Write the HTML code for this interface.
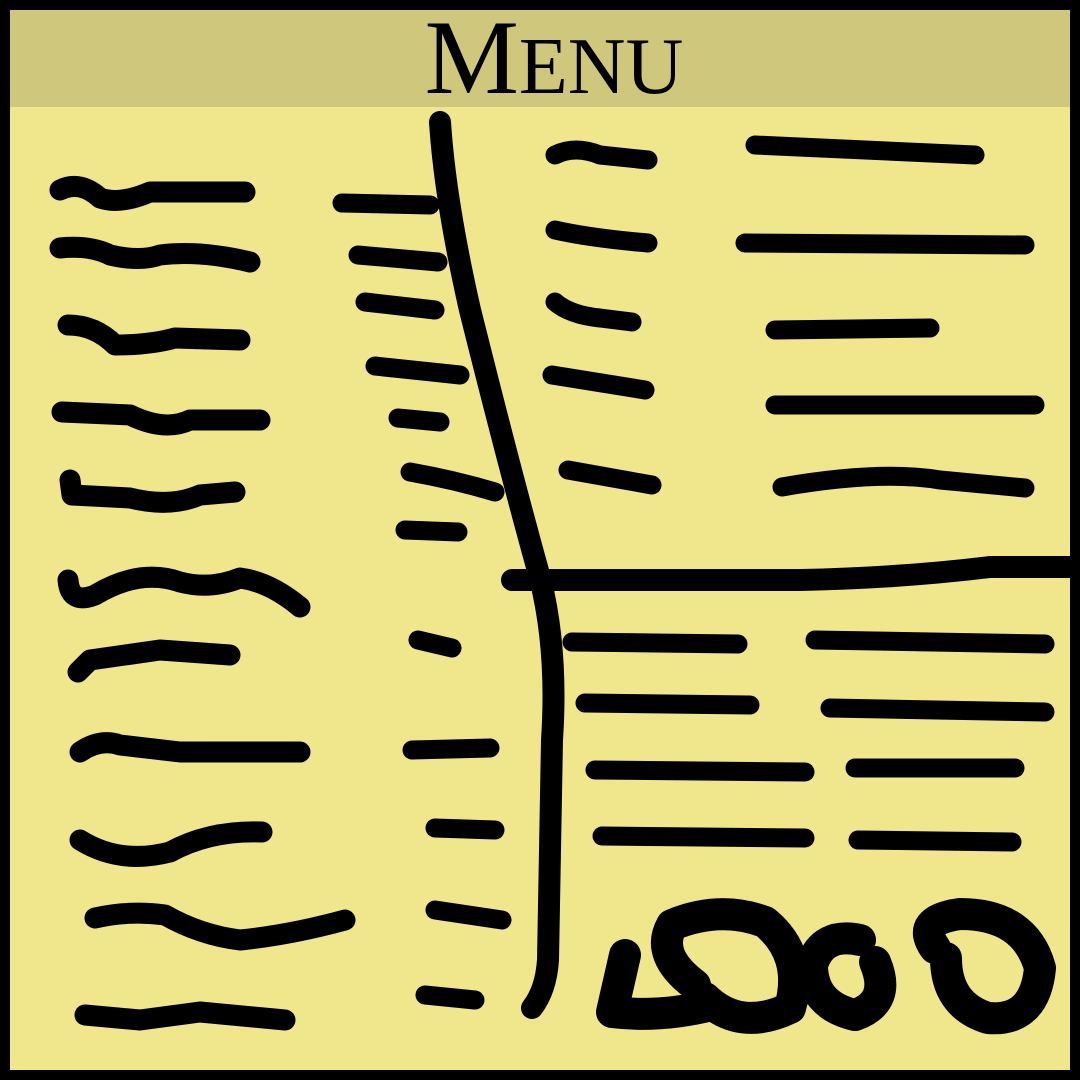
<!DOCTYPE html>
<html><head><meta charset="utf-8"><style>
html,body{margin:0;padding:0;background:#000}
svg{display:block}
</style></head><body>
<svg width="1080" height="1080" viewBox="0 0 1080 1080" xmlns="http://www.w3.org/2000/svg">
<rect x="0" y="0" width="1080" height="1080" fill="#000"/>
<rect x="10" y="10" width="1060" height="1060" fill="#f0e68c"/>
<rect x="10" y="10" width="1060" height="97" fill="#cfc77b"/>
<text x="554" y="93" text-anchor="middle" font-family="Liberation Serif, serif" font-size="106" fill="#000">M<tspan font-size="80">ENU</tspan></text>
<g fill="none" stroke="#000" stroke-linecap="round" stroke-linejoin="round">
<g stroke-width="21">
<path d="M60 190 Q80 180 100 198 Q120 205 150 192 L245 192"/>
<path d="M60 248 Q90 245 110 255 Q140 262 160 255 Q200 250 250 262"/>
<path d="M68 325 Q95 325 115 345 Q150 345 175 338 L240 340"/>
<path d="M62 412 L130 415 Q165 432 190 420 L260 420"/>
<path d="M70 480 L72 495 L130 498 Q170 508 200 495 L235 492"/>
<path d="M68 580 Q70 605 95 595 Q140 568 180 582 Q210 590 240 578 Q270 582 300 607"/>
<path d="M78 672 L90 660 L160 650 L230 655"/>
<path d="M80 752 Q100 738 120 745 L180 752 L300 752"/>
<path d="M80 840 Q120 865 170 852 Q210 830 262 832"/>
<path d="M95 918 Q130 910 165 915 Q200 935 240 940 Q290 935 345 920"/>
<path d="M85 1015 L140 1020 L200 1012 L285 1020"/>
</g>
<g stroke-width="19">
<path d="M342 203 L430 205"/>
<path d="M358 255 L438 262"/>
<path d="M365 302 L435 310"/>
<path d="M375 366 L460 375"/>
<path d="M398 418 L440 422"/>
<path d="M410 472 Q455 480 495 492"/>
<path d="M405 530 L458 532"/>
<path d="M418 640 L452 648"/>
<path d="M412 750 L490 748"/>
<path d="M435 828 L495 830"/>
<path d="M435 910 L502 920"/>
<path d="M425 995 L475 1000"/>
</g>
<g stroke-width="22">
<path d="M440 122 Q445 200 470 310 Q510 470 540 578 Q558 650 552 740 L548 960 Q546 990 532 1008"/>
<path d="M512 580 L800 580 Q900 578 990 567 L1070 567"/>
</g>
<g stroke-width="19">
<path d="M555 155 Q575 145 600 155 L648 160"/>
<path d="M555 230 Q590 238 648 243"/>
<path d="M555 302 Q570 315 600 318 L632 322"/>
<path d="M552 375 L645 390"/>
<path d="M568 470 L652 485"/>
<path d="M755 145 L975 155"/>
<path d="M745 243 L1025 245"/>
<path d="M775 330 L930 328"/>
<path d="M775 405 L1035 405"/>
<path d="M782 487 Q880 470 940 480 L1025 488"/>
</g>
<g stroke-width="19">
<path d="M572 642 L738 644"/>
<path d="M815 640 L1045 644"/>
<path d="M585 703 L750 705"/>
<path d="M830 708 L1045 712"/>
<path d="M595 770 L805 772"/>
<path d="M855 768 L1015 768"/>
<path d="M602 836 L805 838"/>
<path d="M858 840 L1012 842"/>
</g>
<g stroke-width="32">
<path d="M625 955 L612 1012 Q660 1018 712 1005"/>
<path d="M695 985 Q655 955 672 925 Q720 905 765 922 Q805 955 790 1008 Q740 1032 705 998"/>
<path d="M860 940 Q822 932 812 965 Q812 1005 855 1015 Q892 1002 875 962"/>
<path d="M935 948 Q915 920 960 914 Q1025 914 1040 968 Q1035 1022 988 1018 Q946 1005 946 958"/>
</g>
</g>
</svg>
</body></html>
